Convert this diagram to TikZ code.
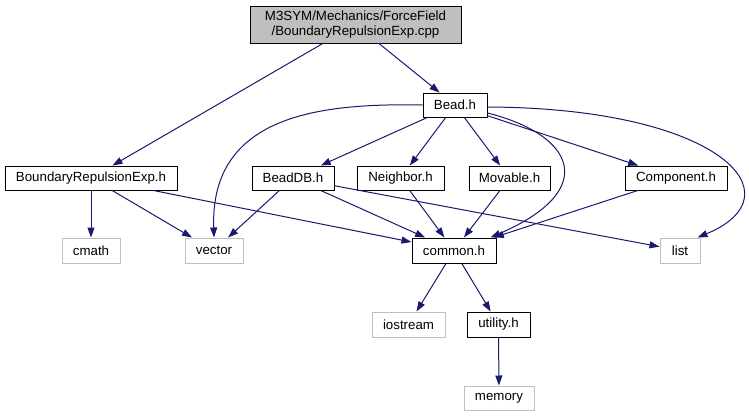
\documentclass[tikz,border=0pt]{standalone}
\usepackage{fontspec}
\setmainfont{Liberation Sans}
\usetikzlibrary{arrows.meta}
\definecolor{edgec}{HTML}{191970}
\definecolor{extc}{HTML}{BFBFBF}
\begin{document}
\begin{tikzpicture}[x=1pt,y=-1pt,
  box/.style={draw=black, line width=1pt, inner sep=0pt, minimum height=24pt,
    font=\fontsize{13.3}{15}\selectfont},
  ext/.style={box, draw=extc},
  e/.style={draw=edgec, line width=1pt, -{Triangle[length=10pt,width=7pt]}}]
\fill[white] (0,0) rectangle (749,416);
\useasboundingbox (0,0) rectangle (749,416);
% nodes
\node[box, fill=extc, minimum width=211pt, minimum height=37pt, align=center] (root) at (355.5,24.5) {M3SYM/Mechanics/ForceField\\/BoundaryRepulsionExp.cpp};
\node[box, minimum width=64pt] (bead) at (455,105) {Bead.h};
\node[box, minimum width=172pt] (brh) at (91,178) {BoundaryRepulsionExp.h};
\node[box, minimum width=82pt] (beaddb) at (293,178) {BeadDB.h};
\node[box, minimum width=87pt] (neighbor) at (400.5,178) {Neighbor.h};
\node[box, minimum width=81pt] (movable) at (509.5,178) {Movable.h};
\node[box, minimum width=102pt] (component) at (676,178) {Component.h};
\node[ext, minimum width=58pt, minimum height=25pt] (cmath) at (91,250.5) {cmath};
\node[ext, minimum width=58pt, minimum height=25pt] (vector) at (214,250.5) {vector};
\node[box, minimum width=84pt, minimum height=25pt] (common) at (454,250.5) {common.h};
\node[ext, minimum width=40pt, minimum height=25pt] (list) at (680,250.5) {list};
\node[ext, minimum width=73pt, minimum height=25pt] (iostream) at (408.5,324.5) {iostream};
\node[box, minimum width=63pt, minimum height=25pt] (utility) at (498.5,324.5) {utility.h};
\node[ext, minimum width=70pt, minimum height=24pt] (memory) at (499,398) {memory};
% edges
\draw[e] (root) -- (bead);
\draw[e] (root) -- (brh);
\draw[e] (bead) -- (beaddb);
\draw[e] (bead) -- (neighbor);
\draw[e] (bead) -- (movable);
\draw[e] (bead) -- (component);
\draw[e] (bead.west) .. controls (320,103) and (210,115) .. (vector.north);
\draw[e] ([yshift=-8pt]bead.east) .. controls (575,135) and (600,190) .. ([xshift=-6pt]common.north east);
\draw[e] ([yshift=-2pt]bead.east) .. controls (720,108) and (800,195) .. ([xshift=-3pt]list.north east);
\draw[e] (brh) -- (cmath);
\draw[e] (brh) -- (vector);
\draw[e] (brh) -- (common);
\draw[e] (beaddb) -- (vector);
\draw[e] (beaddb) -- (common);
\draw[e] (beaddb) -- (list);
\draw[e] (neighbor) -- (common);
\draw[e] (movable) -- (common);
\draw[e] (component) -- (common);
\draw[e] (common) -- (iostream);
\draw[e] (common) -- (utility);
\draw[e] (utility) -- (memory);
\end{tikzpicture}
\end{document}
